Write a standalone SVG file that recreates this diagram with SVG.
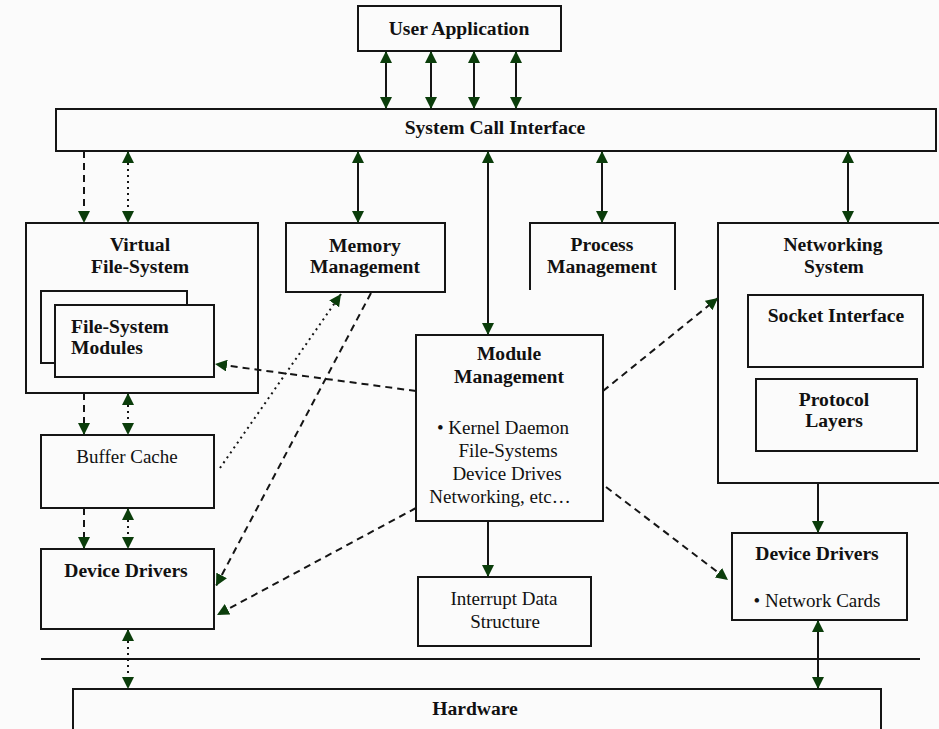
<svg xmlns="http://www.w3.org/2000/svg" width="939" height="729" viewBox="0 0 939 729">
<style>
.box{fill:#fbfbfb;stroke:#151515;stroke-width:2}
.open{fill:none;stroke:#151515;stroke-width:2}
.t{font-family:"Liberation Serif","Times New Roman",serif;font-size:19px;fill:#111;text-anchor:middle}
.b{font-weight:bold;font-size:19.6px}
.l{text-anchor:start}
.c{fill:none;stroke:#151515;stroke-width:2}
.dash{stroke-dasharray:7,5}
.dot{stroke-dasharray:2,4}
.s{marker-end:url(#ah)}
.bi{marker-start:url(#ah);marker-end:url(#ah)}
</style>
<defs>
<marker id="ah" markerWidth="12" markerHeight="12" refX="12" refY="6" orient="auto-start-reverse" markerUnits="userSpaceOnUse">
<path d="M0,0 L12,6 L0,12 z" fill="#0b3d0b"/>
</marker>
</defs>
<rect width="939" height="729" fill="#fbfbfb"/>

<g id="user-application">
<rect class="box" x="358" y="6" width="203" height="45"/>
<text class="t b" x="459" y="35">User Application</text>
</g>

<g id="system-call-interface">
<rect class="box" x="56" y="109" width="880" height="42"/>
<text class="t b" x="495" y="134">System Call Interface</text>
</g>

<g id="virtual-file-system">
<rect class="box" x="26" y="223" width="232" height="170"/>
<text class="t b" x="140" y="251">Virtual</text>
<text class="t b" x="140" y="273">File-System</text>
</g>

<g id="file-system-modules">
<rect class="box" x="41" y="291" width="146" height="72"/>
<rect class="box" x="55" y="305" width="159" height="72"/>
<text class="t b l" x="71" y="333">File-System</text>
<text class="t b l" x="71" y="354">Modules</text>
</g>

<g id="memory-management">
<rect class="box" x="286" y="223" width="159" height="69"/>
<text class="t b" x="365" y="252">Memory</text>
<text class="t b" x="365" y="273">Management</text>
</g>

<g id="process-management">
<path class="open" d="M530,290 V223 H675 V290"/>
<text class="t b" x="602" y="251">Process</text>
<text class="t b" x="602" y="273">Management</text>
</g>

<g id="networking-system">
<rect class="box" x="718" y="223" width="230" height="260"/>
<text class="t b" x="833" y="251">Networking</text>
<text class="t b" x="834" y="273">System</text>
</g>

<g id="socket-interface">
<rect class="box" x="748" y="295" width="175" height="72"/>
<text class="t b" x="836" y="322">Socket Interface</text>
</g>

<g id="protocol-layers">
<rect class="box" x="756" y="379" width="161" height="72"/>
<text class="t b" x="834" y="406">Protocol</text>
<text class="t b" x="834" y="427">Layers</text>
</g>

<g id="module-management">
<rect class="box" x="416" y="335" width="187" height="186"/>
<text class="t b" x="509" y="360">Module</text>
<text class="t b" x="509" y="383">Management</text>
<text class="t" x="503" y="434">• Kernel Daemon</text>
<text class="t" x="508" y="457">File-Systems</text>
<text class="t" x="507" y="480">Device Drives</text>
<text class="t" x="500" y="503">Networking, etc…</text>
</g>

<g id="buffer-cache">
<rect class="box" x="41" y="435" width="173" height="73"/>
<text class="t" x="127" y="463">Buffer Cache</text>
</g>

<g id="device-drivers-left">
<rect class="box" x="41" y="549" width="173" height="80"/>
<text class="t b" x="126" y="577">Device Drivers</text>
</g>

<g id="interrupt-data-structure">
<rect class="box" x="418" y="577" width="173" height="69"/>
<text class="t" x="504" y="605">Interrupt Data</text>
<text class="t" x="505" y="628">Structure</text>
</g>

<g id="device-drivers-right">
<rect class="box" x="732" y="533" width="175" height="87"/>
<text class="t b" x="817" y="560">Device Drivers</text>
<text class="t" x="817" y="607">• Network Cards</text>
</g>

<g id="hardware">
<rect class="box" x="73" y="689" width="808" height="50"/>
<text class="t b" x="475" y="715">Hardware</text>
</g>

<g id="divider">
<line x1="41" y1="659" x2="920" y2="659" stroke="#151515" stroke-width="2"/>
</g>

<g id="connectors">
<line class="c bi" x1="386" y1="51" x2="386" y2="109"/>
<line class="c bi" x1="431" y1="51" x2="431" y2="109"/>
<line class="c bi" x1="474" y1="51" x2="474" y2="109"/>
<line class="c bi" x1="516" y1="51" x2="516" y2="109"/>

<line class="c dash s" x1="84" y1="151" x2="84" y2="223"/>
<line class="c dot bi" x1="128" y1="151" x2="128" y2="223"/>
<line class="c bi" x1="358" y1="151" x2="358" y2="223"/>
<line class="c bi" x1="488" y1="151" x2="488" y2="335"/>
<line class="c bi" x1="602" y1="151" x2="602" y2="223"/>
<line class="c bi" x1="848" y1="151" x2="848" y2="223"/>

<line class="c dash s" x1="84" y1="393" x2="84" y2="435"/>
<line class="c dot bi" x1="128" y1="393" x2="128" y2="435"/>
<line class="c dash s" x1="84" y1="508" x2="84" y2="549"/>
<line class="c dot bi" x1="128" y1="508" x2="128" y2="549"/>
<line class="c dot bi" x1="128" y1="629" x2="128" y2="689"/>

<line class="c s" x1="488" y1="521" x2="488" y2="577"/>
<line class="c s" x1="818" y1="483" x2="818" y2="533"/>
<line class="c bi" x1="818" y1="620" x2="818" y2="689"/>

<line class="c dash s" x1="416" y1="391" x2="215" y2="364"/>
<line class="c dot s" x1="220" y1="468" x2="341" y2="294"/>
<line class="c dash s" x1="371" y1="293" x2="216" y2="586"/>
<line class="c dash s" x1="416" y1="508" x2="217" y2="615"/>
<line class="c dash s" x1="603" y1="391" x2="718" y2="298"/>
<line class="c dash s" x1="606" y1="487" x2="728" y2="580"/>
</g>
</svg>
